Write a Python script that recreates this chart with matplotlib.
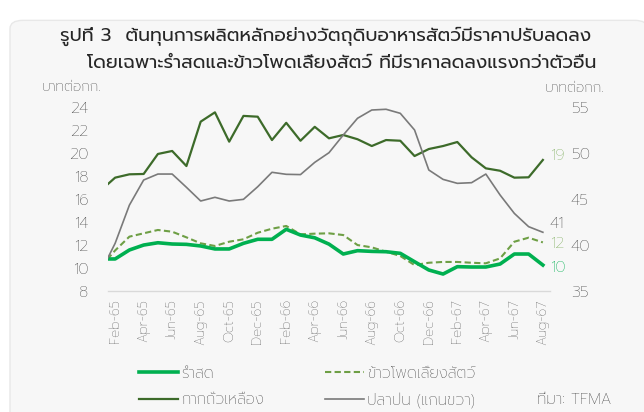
import numpy as np
import matplotlib
matplotlib.use("Agg")
import matplotlib.pyplot as plt
from matplotlib.patches import FancyBboxPatch

plt.rcParams['font.family'] = ['Prompt', 'DejaVu Sans']

# data: month index relative to Feb-65 (Jan-65 sits half outside the axis)
months = ['Jan-65', 'Feb-65', 'Mar-65', 'Apr-65', 'May-65', 'Jun-65', 'Jul-65', 'Aug-65',
          'Sep-65', 'Oct-65', 'Nov-65', 'Dec-65', 'Jan-66', 'Feb-66', 'Mar-66', 'Apr-66',
          'May-66', 'Jun-66', 'Jul-66', 'Aug-66', 'Sep-66', 'Oct-66', 'Nov-66', 'Dec-66',
          'Jan-67', 'Feb-67', 'Mar-67', 'Apr-67', 'May-67', 'Jun-67', 'Jul-67', 'Aug-67']

rice_bran = [10.76, 10.76, 11.54, 11.97, 12.17, 12.06, 12.03, 11.89, 11.63, 11.63, 12.12, 12.47,
             12.47, 13.34, 12.84, 12.6, 12.05, 11.19, 11.48, 11.42, 11.39, 11.25, 10.52, 9.8,
             9.45, 10.09, 10.06, 10.06, 10.32, 11.19, 11.19, 10.23]
corn = [10.1, 11.5, 12.7, 12.99, 13.28, 13.13, 12.64, 12.12, 11.89, 12.26, 12.47, 13.04,
        13.39, 13.63, 12.9, 12.96, 12.99, 12.84, 11.97, 11.77, 11.39, 11.02, 10.23, 10.43,
        10.5, 10.5, 10.43, 10.38, 10.81, 12.26, 12.61, 12.2]
soybean_meal = [16.73, 17.83, 18.12, 18.15, 19.89, 20.15, 18.84, 22.7, 23.51, 20.96, 23.2, 23.13,
                21.1, 22.6, 21.04, 22.25, 21.25, 21.54, 21.17, 20.58, 21.1, 21.04, 19.71, 20.32,
                20.58, 20.93, 19.6, 18.64, 18.43, 17.83, 17.86, 19.37]
fish_meal = [37.05, 40.15, 44.3, 47.03, 47.68, 47.68, 46.24, 44.75, 45.15, 44.75, 44.93, 46.3,
             47.87, 47.65, 47.62, 48.95, 50.0, 51.92, 53.74, 54.64, 54.72, 54.28, 52.47, 48.12,
             47.1, 46.67, 46.74, 47.68, 45.4, 43.4, 41.96, 41.35]

x = np.arange(len(months)) - 1
tick_idx = np.arange(1, len(months), 2)

C_BRAN = '#00b050'
C_CORN = '#6e9f45'
C_SOY = '#3d6b2a'
C_FISH = '#7a7a7a'
C_TEXT = '#404040'

fig = plt.figure(figsize=(6.44, 4.12), dpi=100)
fig.patch.set_facecolor('white')
panel = FancyBboxPatch((10 / 644, -0.05), 0.99, 1.02 - 8 / 412,
                       boxstyle='round,pad=0,rounding_size=0.02',
                       transform=fig.transFigure, facecolor='#f7f7f7',
                       edgecolor='#e8e8e8', linewidth=1, zorder=-10)
fig.patches.append(panel)

ax = fig.add_axes([108 / 644, 1 - 290.7 / 412, 442 / 644, 184 / 412])
ax.patch.set_alpha(0)
ax2 = ax.twinx()
ax2.patch.set_alpha(0)

l_bran, = ax.plot(x, rice_bran, color=C_BRAN, lw=2.6, zorder=5)
l_corn, = ax.plot(x, corn, color=C_CORN, lw=1.5, ls=(0, (3, 1.6)), zorder=4)
l_soy, = ax.plot(x, soybean_meal, color=C_SOY, lw=1.6, zorder=3)
l_fish, = ax2.plot(x, fish_meal, color=C_FISH, lw=1.2, zorder=2)

ax.set_xlim(-0.5, len(months) - 1.5)
ax.set_ylim(8, 24)
ax2.set_ylim(35, 55)
ax.set_yticks(np.arange(8, 25, 2))
ax2.set_yticks(np.arange(35, 56, 5))
ax.set_xticks(x[tick_idx])
ax.set_xticklabels([months[i] for i in tick_idx], rotation=90, fontsize=9.5,
                   color='#595959', fontweight='light')

for a in (ax, ax2):
    for s in a.spines.values():
        s.set_visible(False)
ax.spines['bottom'].set_visible(True)
ax.spines['bottom'].set_color('#d9d9d9')
ax.spines['bottom'].set_linewidth(1)
ax.tick_params(axis='x', length=0, pad=6)
ax.tick_params(axis='y', length=0, pad=14, labelsize=11.5, labelcolor=C_TEXT)
ax2.tick_params(axis='y', length=0, pad=15, labelsize=11.5, labelcolor=C_TEXT)
for lab in ax.get_yticklabels() + ax2.get_yticklabels():
    lab.set_fontweight('light')

# end-of-line value labels
ax.annotate('%d' % round(soybean_meal[-1]), (x[-1], soybean_meal[-1]), xytext=(5, 3),
            textcoords='offset points', va='center', fontsize=11.5, color='#7fae5e',
            fontweight='light')
ax2.annotate('%d' % int(fish_meal[-1]), (x[-1], fish_meal[-1]), xytext=(5, 6),
             textcoords='offset points', va='center', fontsize=11.5, color=C_TEXT,
             fontweight='light')
ax.annotate('%d' % round(corn[-1]), (x[-1], corn[-1]), xytext=(5, -1),
            textcoords='offset points', va='center', fontsize=11.5, color='#7fae5e',
            fontweight='light')
ax.annotate('%d' % round(rice_bran[-1]), (x[-1], rice_bran[-1]), xytext=(5, -2),
            textcoords='offset points', va='center', fontsize=11.5, color=C_BRAN,
            fontweight='light')

# titles and unit labels
fig.text(0.505, 1 - 36 / 412, 'รูปที่ 3  ต้นทุนการผลิตหลักอย่างวัตถุดิบอาหารสัตว์มีราคาปรับลดลง',
         ha='center', va='center', fontsize=13.5, color='#262626')
fig.text(0.53, 1 - 63 / 412, 'โดยเฉพาะรำสดและข้าวโพดเลี้ยงสัตว์ ที่มีราคาลดลงแรงกว่าตัวอื่น',
         ha='center', va='center', fontsize=13.5, color='#262626')
fig.text(42 / 644, 1 - 87 / 412, 'บาทต่อกก.', ha='left', va='center', fontsize=10,
         color=C_TEXT, fontweight='light')
fig.text(545 / 644, 1 - 88 / 412, 'บาทต่อกก.', ha='left', va='center', fontsize=10,
         color=C_TEXT, fontweight='light')

leg = fig.legend([l_bran, l_soy, l_corn, l_fish],
                 ['รำสด', 'กากถั่วเหลือง', 'ข้าวโพดเลี้ยงสัตว์', 'ปลาป่น (แกนขวา)'],
                 ncol=2, loc='upper left', bbox_to_anchor=(125 / 644, 1 - 352 / 412),
                 frameon=False, fontsize=11, handlelength=2.6, handletextpad=0.15,
                 columnspacing=4.0, labelspacing=0.7)
for t in leg.get_texts():
    t.set_color(C_TEXT)
    t.set_fontweight('light')

fig.text(537 / 644, 1 - 400 / 412, 'ที่มา: TFMA', ha='left', va='center', fontsize=11,
         color=C_TEXT, fontweight='light')

fig.savefig('out.png', dpi=100)
